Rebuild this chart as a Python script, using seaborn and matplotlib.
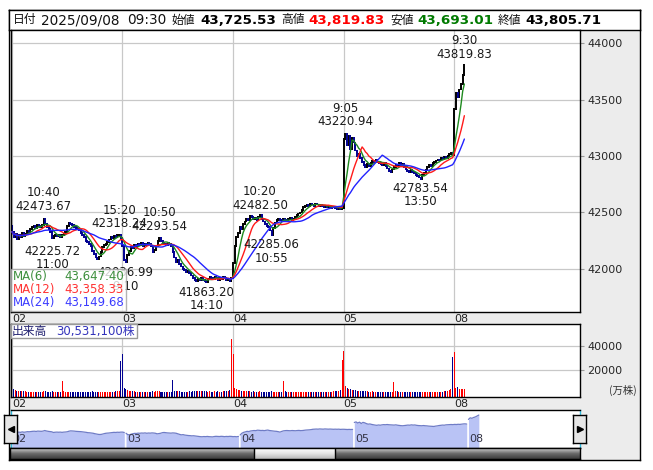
import numpy as np
import pandas as pd
import matplotlib
matplotlib.use("Agg")
import matplotlib.pyplot as plt
import seaborn as sns
from matplotlib.patches import Rectangle
from matplotlib.colors import LinearSegmentedColormap

# ---- data (5 min bars, 9:00-15:25 = 66 bars a day) ----
days = ["02", "03", "04", "05", "08"]
bars_per_day = 66

close_02 = [42330, 42280, 42310, 42260, 42300, 42280, 42320, 42290,
            42310, 42340, 42330, 42350,
            42370, 42380, 42360, 42390, 42380, 42370, 42390,
            42440,
            42400, 42370, 42350, 42330,
            42270, 42290, 42300,
            42290, 42300, 42280, 42300, 42310, 42330,
            42380, 42410, 42400, 42390,
            42370, 42360, 42350, 42340, 42320,
            42300, 42280, 42250, 42240, 42220, 42200,
            42160, 42130, 42100, 42090, 42110,
            42150, 42190, 42210, 42220,
            42240, 42260, 42280, 42270, 42290, 42280, 42300, 42300, 42270]
close_03 = [42200, 42080, 42060, 42120,
            42160, 42190, 42180, 42210,
            42200, 42220, 42210, 42230, 42200, 42220, 42210, 42230, 42220, 42200,
            42150, 42170, 42200,
            42250, 42270, 42250,
            42230, 42220, 42210, 42230, 42220, 42200,
            42150, 42100, 42060, 42080, 42040, 42020,
            42000, 41990, 41970, 41980, 41960, 41940,
            41920, 41900, 41890, 41910, 41900, 41920,
            41900, 41890, 41880, 41910, 41930, 41920, 41910, 41930, 41920, 41900,
            41920, 41910, 41930, 41920, 41900, 41910, 41890, 41920]
close_04 = [42050, 42200, 42280,
            42320, 42370, 42350,
            42400, 42420, 42440, 42430,
            42470, 42460, 42440, 42450, 42430, 42460,
            42480, 42440, 42420, 42400,
            42380, 42370, 42340, 42300,
            42360, 42410, 42430, 42440,
            42430, 42420, 42440, 42430, 42420, 42440, 42450, 42430, 42440,
            42460, 42480, 42490, 42500, 42520,
            42550, 42560, 42570, 42560, 42580, 42570, 42560, 42580, 42570, 42560,
            42570, 42560, 42550, 42560, 42550, 42560, 42540, 42550,
            42550, 42540, 42530, 42540, 42530, 42540]
close_05 = [43150, 43200,
            43100, 43180, 43060, 43160, 43120,
            43050, 43000, 43020, 42980,
            42950, 42920, 42900, 42930, 42910,
            42940, 42960, 42950, 42970, 42950, 42940,
            42930, 42920, 42940, 42910, 42890,
            42870, 42860, 42880, 42900,
            42920, 42910, 42940, 42920, 42930, 42900,
            42880, 42870, 42860, 42880, 42860, 42850,
            42830, 42820, 42810, 42800, 42830, 42850,
            42880, 42900, 42920, 42910, 42940, 42950,
            42960, 42970, 42960, 42980, 42970, 42990, 42980,
            43000, 43020, 43030, 43010]
close_08 = [43420, 43560, 43520, 43590, 43640, 43720, 43805.71]
open_first = 42380

# volume, 万株
vol_02 = [30000, 5000, 4000, 3500, 3500, 3200, 3000, 3000, 2800, 2600,
          2500, 2500, 2600, 2400, 2500, 2300, 2500, 2400, 2600, 3200,
          2800, 2500, 2400, 2600, 3000, 2500, 2300, 2400, 2200, 2600,
          11500, 3200, 2600, 2500, 2400, 2300, 2400, 2300, 2200, 2300,
          2400, 2200, 2300, 2500, 2400, 2300, 2600, 2500, 2800, 2700,
          2600, 2500, 2400, 2500, 2300, 2400, 2300, 2400, 2500, 2400,
          2600, 2500, 2800, 3000, 3500, 27500]
vol_03 = [33000, 5500, 4500, 4000, 3500, 3200, 3000, 2800, 2600, 2700,
          2500, 2400, 2600, 2500, 2400, 2700, 2500, 2300, 3000, 2600,
          2800, 3300, 3500, 2600, 2500, 2400, 2500, 2300, 2400, 2600,
          12000, 3500, 3200, 3000, 2800, 2700, 2600, 2500, 2600, 2500,
          2800, 2600, 3500, 3000, 2800, 3200, 3000, 3300, 2800, 3000,
          3200, 2700, 2800, 2600, 2700, 2900, 2600, 2800, 2600, 2700,
          2800, 3000, 2900, 3200, 3600, 45000]
vol_04 = [33000, 6000, 4500, 4000, 3800, 3500, 3300, 3000, 3200, 2800,
          3000, 2700, 2800, 2600, 2700, 2500, 3000, 2600, 2700, 2500,
          2600, 2400, 2600, 2800, 2600, 2500, 2400, 2500, 2300, 2400,
          11000, 3500, 2600, 2500, 2400, 2300, 2400, 2500, 2400, 2300,
          2400, 2500, 2600, 2400, 2300, 2400, 2500, 2300, 2400, 2500,
          2400, 2300, 2400, 2500, 2400, 2500, 2600, 2500, 2700, 2600,
          2800, 3000, 3200, 3500, 4000, 28000]
vol_05 = [36000, 7000, 5500, 5000, 4500, 4200, 3800, 3600, 3500, 3300,
          3000, 3200, 3000, 2800, 3000, 2700, 2600, 2800, 2600, 2500,
          2600, 2500, 2400, 2600, 2500, 2400, 2500, 2300, 2400, 2500,
          10500, 3500, 3000, 2600, 2500, 2400, 2500, 2400, 2300, 2400,
          2500, 2300, 2400, 2500, 2400, 2300, 2600, 2400, 2500, 2400,
          2300, 2400, 2500, 2400, 2300, 2500, 2400, 2600, 2500, 2700,
          2800, 3000, 3500, 4000, 4500, 31000]
vol_08 = [34500, 6000, 6500, 5000, 5000, 4800, 4500]

# labelled highs / lows: day, bar, price, time, kind
marks = [("02", 19, 42473.67, "10:40", "high"),
         ("02", 24, 42225.72, "11:00", "low"),
         ("02", 64, 42318.24, "15:20", "high"),
         ("03", 2, 42036.99, "9:10", "low"),
         ("03", 22, 42293.54, "10:50", "high"),
         ("03", 50, 41863.20, "14:10", "low"),
         ("04", 16, 42482.50, "10:20", "high"),
         ("04", 23, 42285.06, "10:55", "low"),
         ("05", 1, 43220.94, "9:05", "high"),
         ("05", 46, 42783.54, "13:50", "low"),
         ("08", 6, 43819.83, "9:30", "high")]

ma_windows = [6, 12, 24]
ma_values = ["43,647.40", "43,358.33", "43,149.68"]
price_ticks = [42000, 42500, 43000, 43500, 44000]
vol_ticks = [20000, 40000]

header = [("日付", "n"), ("2025/09/08", "d"), ("09:30", "d"),
          ("始値", "n"), ("43,725.53", "b"), ("高値", "n"), ("43,819.83", "r"),
          ("安値", "n"), ("43,693.01", "g"), ("終値", "n"), ("43,805.71", "b")]
header_x = [13, 41, 127, 172, 200, 281, 308, 390, 417, 498, 525]

# ---- table ----
closes = [close_02, close_03, close_04, close_05, close_08]
vols = [vol_02, vol_03, vol_04, vol_05, vol_08]
rows = []
for d, (cl, vl) in enumerate(zip(closes, vols)):
    for b, (c, v) in enumerate(zip(cl, vl)):
        rows.append((days[d], d * bars_per_day + b, c, v))
df = pd.DataFrame(rows, columns=["day", "x", "close", "vol"])
df["open"] = df["close"].shift(1).fillna(open_first)
df["up"] = df["close"] >= df["open"]
for w in ma_windows:
    df[f"ma{w}"] = df["close"].rolling(w, min_periods=1).mean()
day_start = {d: i * bars_per_day for i, d in enumerate(days)}

# ---- figure ----
sns.set_style("white")
plt.rcParams["font.family"] = ["DejaVu Sans", "Noto Sans CJK JP"]
W, H = 653, 470
fig = plt.figure(figsize=(W / 100, H / 100), dpi=100)
fig.patch.set_facecolor("white")


def panel(x0, y0, x1, y1):
    a = fig.add_axes([x0 / W, 1 - y1 / H, (x1 - x0) / W, (y1 - y0) / H])
    for s in a.spines.values():
        s.set_color("black")
        s.set_linewidth(1)
    return a


def ftext(x, y, s, **kw):
    fig.text(x / W, 1 - y / H, s, va="center", **kw)


frame = panel(9, 10, 640, 460)
frame.set_facecolor("#ececec")
frame.set_xticks([])
frame.set_yticks([])

# header
hd = panel(9, 10, 640, 30)
hd.set_facecolor("white")
hd.set_xticks([])
hd.set_yticks([])
colors_h = {"b": "black", "r": "#ff0000", "g": "#007a00"}
for (s, kind), x in zip(header, header_x):
    if kind == "n":
        ftext(x, 20, s, fontsize=8.5, color="#111111",
              family=["Noto Sans CJK JP", "DejaVu Sans"])
    elif kind == "d":
        ftext(x, 20, s, fontsize=9.8, color="#111111")
    else:
        ftext(x, 20, s, fontsize=9.7, fontweight="bold", color=colors_h[kind])

grid_kw = dict(color="#c8c8c8", linewidth=0.9)
xmax = 339

# price panel
ax = panel(11, 30, 580, 312)
ax.set_facecolor("white")
ax.set_xlim(-0.5, xmax)
ax.set_ylim(41617, 44118)
ax.set_yticks(price_ticks)
ax.yaxis.tick_right()
ax.set_xticks(list(day_start.values()))
ax.set_xticklabels(days, ha="left")
ax.tick_params(axis="y", labelsize=8, length=3, color="#999999", pad=2)
ax.tick_params(axis="x", labelsize=8, length=0, pad=1.5, labelcolor="#222222")
ax.grid(True, **grid_kw)
ax.set_axisbelow(True)

lo = np.minimum(df["open"], df["close"]) - 8
hi = np.maximum(df["open"], df["close"]) + 8
ax.vlines(df["x"][df["up"]], lo[df["up"]], hi[df["up"]], color="black", lw=1.4, zorder=2)
ax.vlines(df["x"][~df["up"]], lo[~df["up"]], hi[~df["up"]], color="#000090", lw=1.4, zorder=2)

ma_colors = ["#1f8a1f", "#ff1a1a", "#2222ff"]
for w, c in zip(ma_windows, ma_colors):
    sns.lineplot(data=df, x="x", y=f"ma{w}", color=c, lw=1.0, ax=ax, legend=False, zorder=3)
ax.set_xlabel("")
ax.set_ylabel("")

for d, b, p, t, kind in marks:
    x = day_start[d] + b
    if kind == "high":
        ax.annotate(f"{t}\n{p:.2f}", (x, p), xytext=(0, 2), textcoords="offset points",
                    ha="center", va="bottom", fontsize=8.5, linespacing=1.05,
                    color="#1a1a1a", zorder=4)
    else:
        ax.annotate(f"{p:.2f}\n{t}", (x, p), xytext=(0, -1), textcoords="offset points",
                    ha="center", va="top", fontsize=8.5, linespacing=1.05,
                    color="#1a1a1a", zorder=4)

# MA legend box
fig.patches.append(Rectangle((11 / W, 1 - 311 / H), 115 / W, 42 / H, transform=fig.transFigure,
                             facecolor="white", alpha=0.8, edgecolor="#a0a0a0", lw=1, zorder=5))
leg_colors = ["#3d8f3d", "#ff3333", "#3c3cff"]
for i, (w, v, c) in enumerate(zip(ma_windows, ma_values, leg_colors)):
    yy = 276.5 + i * 13.2
    ftext(13, yy, f"MA({w})", fontsize=8.5, color=c, zorder=6)
    ftext(124, yy, v, fontsize=8.5, color=c, ha="right", zorder=6)

# volume panel
av = panel(11, 324, 580, 397)
av.set_facecolor("white")
av.set_xlim(-0.5, xmax)
vbot = -1700
av.set_ylim(vbot, 57500)
vcol = np.where(df["up"], "#ff0000", "#000090")
av.bar(df["x"], df["vol"] - vbot, bottom=vbot, width=0.6, color=vcol, linewidth=0)
av.set_yticks(vol_ticks)
av.yaxis.tick_right()
av.set_xticks(list(day_start.values()))
av.set_xticklabels(days, ha="left")
av.tick_params(axis="y", labelsize=8, length=3, color="#999999", pad=2)
av.tick_params(axis="x", labelsize=8, length=0, pad=1.5, labelcolor="#222222")
av.grid(True, **grid_kw)
av.set_axisbelow(True)
ftext(609, 390, "(万株)", fontsize=7.5, color="#333333",
      family=["Noto Sans CJK JP", "DejaVu Sans"])
fig.patches.append(Rectangle((11 / W, 1 - 338 / H), 126 / W, 14 / H, transform=fig.transFigure,
                             facecolor="white", edgecolor="#999999", lw=1, zorder=5))
ftext(12, 331, "出来高", fontsize=8.5, color="#202070", zorder=6,
      family=["Noto Sans CJK JP", "DejaVu Sans"])
ftext(56, 331, "30,531,100株", fontsize=8.5, color="#3333bb", zorder=6,
      family=["DejaVu Sans", "Noto Sans CJK JP"])

# navigator
an = panel(11, 410, 580, 448)
an.set_facecolor("white")
an.set_xlim(-0.5, 328.5)
nbot = 40900
an.set_ylim(nbot, 44250)
for d in days:
    sub = df[df["day"] == d]
    an.fill_between(sub["x"], nbot, sub["close"], color="#b9c3f5", lw=0)
    sns.lineplot(data=sub, x="x", y="close", color="#6f7cc6", lw=0.9, ax=an, legend=False)
    an.text(day_start[d] + 0.5, 41250, d, fontsize=8, color="#333344", va="bottom")
an.set_xticks([])
an.set_yticks([])
an.set_xlabel("")
an.set_ylabel("")
an.spines["left"].set_color("#33bbdd")
an.spines["right"].set_color("#33bbdd")

# scrollbar
sb = panel(10, 448, 580, 459)
track = LinearSegmentedColormap.from_list("track", ["#d0d0d0", "#6a6a6a", "#3c3c3c"])
thumb = LinearSegmentedColormap.from_list("thumb", ["#ffffff", "#e4e4e4", "#b8b8b8"])
grad = np.linspace(0, 1, 30).reshape(-1, 1)
sb.imshow(grad, cmap=track, aspect="auto", extent=(10, 580, 0, 1))
sb.imshow(grad, cmap=thumb, aspect="auto", extent=(254, 335, 0, 1))
sb.vlines([254, 335], 0, 1, color="black", lw=1)
sb.set_xlim(10, 580)
sb.set_ylim(0, 1)
sb.set_xticks([])
sb.set_yticks([])

# arrow buttons
for x0, mk in [(4, "<"), (573, ">")]:
    bt = panel(x0, 415, x0 + 13, 443)
    bt.set_facecolor("#e6e6e6")
    bt.plot([0.5], [0.5], marker=mk, color="black", markersize=4)
    bt.set_xlim(0, 1)
    bt.set_ylim(0, 1)
    bt.set_xticks([])
    bt.set_yticks([])

fig.savefig("out.png", dpi=100)
